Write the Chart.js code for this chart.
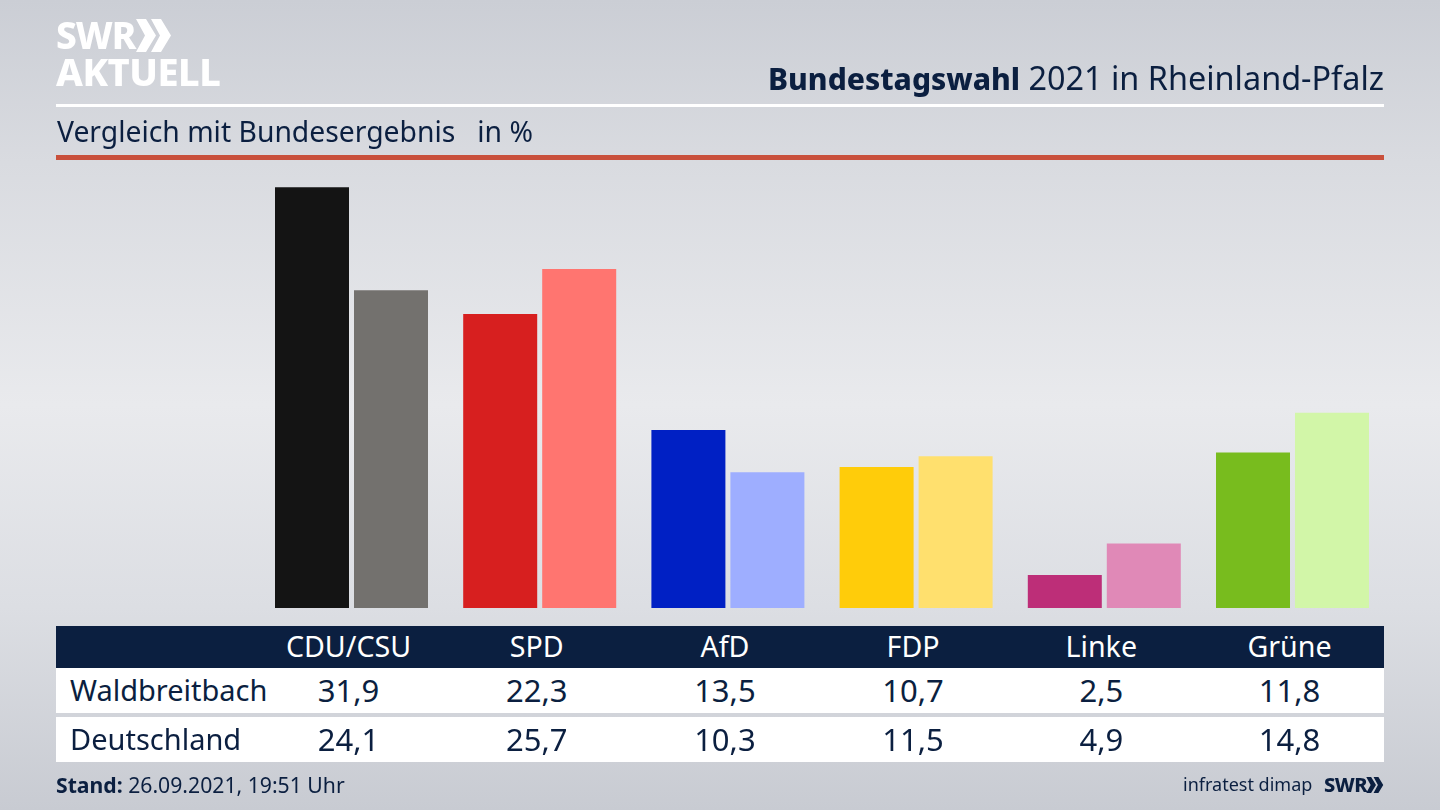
<!DOCTYPE html>
<html lang="de">
<head>
<meta charset="utf-8">
<title>Bundestagswahl 2021 in Rheinland-Pfalz</title>
<script src="https://cdn.jsdelivr.net/npm/chart.js@4/dist/chart.umd.min.js"></script>
<style>
  html, body { margin: 0; padding: 0; }
  body {
    width: 1440px; height: 810px; overflow: hidden; position: relative;
    font-family: "Noto Sans", sans-serif; color: #0b1f40;
    background: linear-gradient(180deg, #cbced5 0%, #d9dbe0 20%, #e9eaed 50%, #dcdee3 75%, #c8cbd2 100%);
  }
  canvas { position: absolute; left: 0; top: 0; }
  .abs { position: absolute; white-space: nowrap; }
  .logo { font-weight: 800; color: #fff; letter-spacing: -0.5px; }
  .band { position: absolute; left: 56px; width: 1328px; }
  .cell { position: absolute; white-space: nowrap; transform: translateX(-50%); }
</style>
</head>
<body>
<canvas id="chart" width="1440" height="810"></canvas>

<div class="abs logo" style="left:56px;top:12px;font-size:37px;line-height:46px;letter-spacing:-1px;">SWR</div>
<svg class="abs" style="left:136px;top:19px;" width="36" height="34" viewBox="0 0 36 34">
  <path d="M0 0 L10 0 L20 16.5 L10 33 L0 33 L9 16.5 Z M15 0 L25 0 L35 16.5 L25 33 L15 33 L24 16.5 Z" fill="#fff"/>
</svg>
<div class="abs logo" style="left:56px;top:48px;font-size:38px;line-height:46px;">AKTUELL</div>

<div class="abs" style="right:56px;top:56px;font-size:32.4px;line-height:42px;"><b style="font-size:30px;font-weight:800;">Bundestagswahl</b> 2021 in Rheinland-Pfalz</div>
<div class="band" style="top:104px;height:3px;background:#fff;"></div>
<div class="abs" style="left:57px;top:111px;font-size:28.3px;line-height:40px;">Vergleich mit Bundesergebnis&nbsp;&nbsp; in %</div>
<div class="band" style="top:155px;height:5px;background:#c9503c;"></div>

<div class="band" style="top:626px;height:42px;background:#0b1f40;"></div>
<div class="band" style="top:668px;height:45px;background:#fff;"></div>
<div class="band" style="top:717px;height:45px;background:#fff;"></div>
<div id="cells"></div>

<div class="abs" style="left:56px;top:770px;font-size:21.2px;line-height:30px;"><b>Stand:</b> 26.09.2021, 19:51 Uhr</div>
<div class="abs" style="left:1183px;top:770px;font-size:18px;line-height:28px;">infratest dimap</div>
<div class="abs" style="left:1324px;top:771px;font-size:20px;line-height:28px;font-weight:800;letter-spacing:-0.5px;">SWR</div>
<svg class="abs" style="left:1366px;top:777px;" width="18" height="16" viewBox="0 0 36 33">
  <path d="M0 0 L10 0 L20 16.5 L10 33 L0 33 L9 16.5 Z M15 0 L25 0 L35 16.5 L25 33 L15 33 L24 16.5 Z" fill="#0b1f40"/>
</svg>

<script>
var parties = ["CDU/CSU", "SPD", "AfD", "FDP", "Linke", "Grüne"];
var waldbreitbach = [31.9, 22.3, 13.5, 10.7, 2.5, 11.8];
var deutschland = [24.1, 25.7, 10.3, 11.5, 4.9, 14.8];
var regionColors = ["#141414", "#d71f1f", "#0020c4", "#ffcc0a", "#bd2e78", "#78bc1e"];
var bundColors = ["#73716e", "#ff7570", "#9eaeff", "#ffe06e", "#e089b7", "#d2f6a8"];

var ctx = document.getElementById('chart').getContext('2d');
var chart = new Chart(ctx, {
    type: 'bar',
    data: {
        labels: parties,
        datasets: [
            { label: "Waldbreitbach", data: waldbreitbach, backgroundColor: regionColors },
            { label: "Deutschland", data: deutschland, backgroundColor: bundColors }
        ]
    },
    options: {
        responsive: false,
        animation: false,
        layout: { padding: { left: 257.4, right: 53.4, top: 186, bottom: 202 } },
        datasets: { bar: { categoryPercentage: 158 / 188.2, barPercentage: 74 / 79 } },
        plugins: { legend: { display: false }, tooltip: { enabled: false } },
        scales: {
            x: { display: false },
            y: { display: false, min: 0, max: 32 }
        }
    }
});

// table under the bars, columns follow the x scale
var cells = document.getElementById('cells');
function addCell(text, x, top, size, color) {
    var d = document.createElement('div');
    d.className = 'cell';
    d.textContent = text;
    d.style.left = x + 'px';
    d.style.top = top + 'px';
    d.style.fontSize = size + 'px';
    d.style.lineHeight = '40px';
    d.style.color = color;
    cells.appendChild(d);
}
function comma(v) { return v.toFixed(1).replace('.', ','); }

parties.forEach(function (p, i) {
    var x = chart.scales.x.getPixelForValue(i) - 3;
    addCell(p, x, 626, 28.6, '#ffffff');
    addCell(comma(waldbreitbach[i]), x, 670, 31, '#0b1f40');
    addCell(comma(deutschland[i]), x, 719, 31, '#0b1f40');
});

["Waldbreitbach", "Deutschland"].forEach(function (name, i) {
    var d = document.createElement('div');
    d.className = 'abs';
    d.textContent = name;
    d.style.left = '70px';
    d.style.top = (i === 0 ? 670 : 719) + 'px';
    d.style.fontSize = '29px';
    d.style.lineHeight = '40px';
    cells.appendChild(d);
});
</script>
</body>
</html>
